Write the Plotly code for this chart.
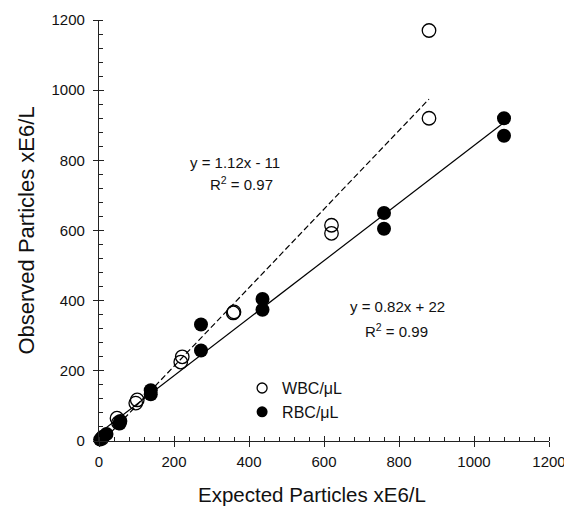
import plotly.graph_objects as go

# WBC (open circles)
WBC_X = [880, 880, 620, 620, 360, 358, 222, 218, 102, 98, 48, 52, 8]
WBC_Y = [1170, 920, 615, 592, 368, 365, 240, 225, 117, 108, 65, 52, 8]
# RBC (filled circles)
RBC_X = [1080, 1080, 760, 760, 436, 436, 272, 272, 138, 138, 57, 55, 20, 10, 3]
RBC_Y = [920, 870, 650, 605, 405, 374, 332, 258, 145, 133, 57, 50, 20, 12, 4]

# Regression fits as reported on chart
WBC_SLOPE, WBC_INT = 1.12, -11
RBC_SLOPE, RBC_INT = 0.82, 22
WBC_FIT_X = [0, 880]
RBC_FIT_X = [0, 1080]

TICKS = [0, 200, 400, 600, 800, 1000, 1200]

X_TITLE = "Expected Particles xE6/L"
Y_TITLE = "Observed Particles xE6/L"

FONT = "Liberation Sans, Arial, Helvetica, sans-serif"

fig = go.Figure()

fig.add_trace(go.Scatter(
    x=WBC_FIT_X, y=[WBC_SLOPE * x + WBC_INT for x in WBC_FIT_X],
    mode="lines", line=dict(color="black", width=1.2, dash="6px,3px"),
    showlegend=False, hoverinfo="skip"))
fig.add_trace(go.Scatter(
    x=RBC_FIT_X, y=[RBC_SLOPE * x + RBC_INT for x in RBC_FIT_X],
    mode="lines", line=dict(color="black", width=1.2),
    showlegend=False, hoverinfo="skip"))

fig.add_trace(go.Scatter(
    x=WBC_X, y=WBC_Y, mode="markers", cliponaxis=False,
    marker=dict(symbol="circle-open", size=13.5, color="black", line=dict(width=1.3)),
    showlegend=False))
fig.add_trace(go.Scatter(
    x=RBC_X, y=RBC_Y, mode="markers", cliponaxis=False,
    marker=dict(symbol="circle", size=14, color="black"),
    showlegend=False))

# legend-only entries with smaller symbols
fig.add_trace(go.Scatter(
    x=[None], y=[None], mode="markers", name="WBC/μL",
    marker=dict(symbol="circle-open", size=10, color="black", line=dict(width=1.3))))
fig.add_trace(go.Scatter(
    x=[None], y=[None], mode="markers", name="RBC/μL",
    marker=dict(symbol="circle", size=11, color="black")))

annos = [
    (363, 795, "y = 1.12x - 11"),
    (379, 735, "R<sup>2</sup> = 0.97"),
    (795, 382, "y = 0.82x + 22"),
    (792, 316, "R<sup>2</sup> = 0.99"),
]
for ax, ay, t in annos:
    fig.add_annotation(x=ax, y=ay, text=t, showarrow=False,
                       font=dict(family=FONT, size=15, color="#111"),
                       xanchor="center", yanchor="middle")

# x-axis title (placed slightly left of centre, as in the original)
fig.add_annotation(xref="paper", yref="paper", x=0.473, y=-0.126, text=X_TITLE,
                   showarrow=False, xanchor="center", yanchor="middle",
                   font=dict(family=FONT, size=20.5, color="#111"))

axis_common = dict(
    range=[0, 1200], tickvals=TICKS, ticks="outside", ticklen=5, tickwidth=1.2,
    tickcolor="#222", showline=True, linecolor="#222", linewidth=1.2,
    showgrid=False, zeroline=False, automargin=False,
    tickfont=dict(family=FONT, size=15, color="#111"),
    minor=dict(dtick=40, ticks="inside", ticklen=4, tickwidth=1, tickcolor="#222", showgrid=False),
)

# page body has an 8px margin, so the figure is sized/offset to place the plot area correctly
fig.update_layout(
    width=564, height=498,
    margin=dict(l=91, r=23, t=12, b=65, autoexpand=False),
    paper_bgcolor="white", plot_bgcolor="white",
    font=dict(family=FONT, color="#111"),
    xaxis=dict(**axis_common, ticklabelstandoff=2),
    yaxis=dict(**axis_common,
               title=dict(text=Y_TITLE,
                          font=dict(family=FONT, size=22, color="#111"), standoff=10),
               ticklabelstandoff=5),
    xaxis2=dict(overlaying="x", matches="x", anchor="y", range=[0, 1200], tickvals=TICKS,
                ticks="inside", ticklen=5, tickwidth=1.2, tickcolor="#222", automargin=False,
                showticklabels=False, showline=False, showgrid=False, zeroline=False),
    yaxis2=dict(overlaying="y", matches="y", anchor="x", range=[0, 1200], tickvals=TICKS,
                ticks="inside", ticklen=5, tickwidth=1.2, tickcolor="#222", automargin=False,
                showticklabels=False, showline=False, showgrid=False, zeroline=False),
    legend=dict(x=0.318, y=0.166, xanchor="left", yanchor="top",
                bgcolor="rgba(0,0,0,0)", font=dict(family=FONT, size=16, color="#111"),
                itemwidth=30, tracegroupgap=0),
)

# dummy trace to activate overlay axes
fig.add_trace(go.Scatter(x=[None], y=[None], xaxis="x2", yaxis="y2",
                         showlegend=False, hoverinfo="skip"))

fig.write_html("out.html")
